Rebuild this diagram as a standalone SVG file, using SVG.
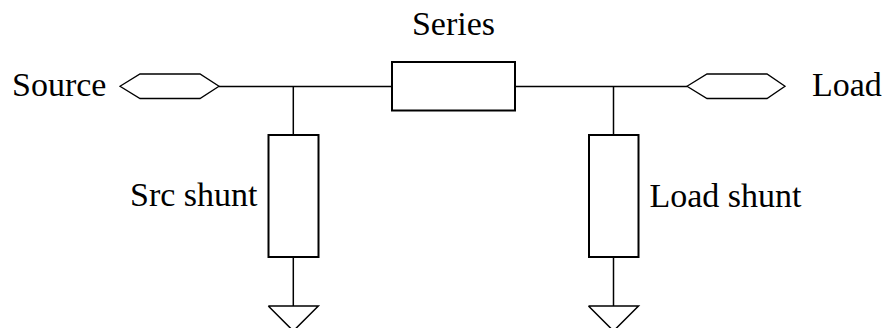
<svg xmlns="http://www.w3.org/2000/svg" width="885" height="328" viewBox="0 0 885 328">
<style>
.w{stroke:#000;stroke-width:1.5;fill:none}
.b{stroke:#000;stroke-width:2;fill:#fff}
.p{stroke:#000;stroke-width:1.3;fill:#fff}
.t{font-family:"Liberation Serif","Times New Roman",serif;font-size:34px;fill:#000}
</style>
<rect width="885" height="328" fill="#fff"/>
<g id="connectors">
<line class="w" x1="219" y1="86.5" x2="392" y2="86.5"/>
<line class="w" x1="515" y1="86.5" x2="687" y2="86.5"/>
<line class="w" x1="293.3" y1="86.5" x2="293.3" y2="135"/>
<line class="w" x1="293.3" y1="257" x2="293.3" y2="306"/>
<line class="w" x1="613.5" y1="86.5" x2="613.5" y2="135"/>
<line class="w" x1="613.5" y1="257" x2="613.5" y2="306"/>
</g>
<g id="source">
<polygon class="p" points="120,86.3 140,74 200,74 219,86.3 200,98.5 140,98.5"/>
<text class="t" x="12" y="95.7">Source</text>
</g>
<g id="load">
<polygon class="p" points="687,86.3 707,74 767,74 785,86.3 767,98.5 707,98.5"/>
<text class="t" x="812" y="95.7">Load</text>
</g>
<g id="series">
<rect class="b" x="392" y="62" width="123" height="48.5"/>
<text class="t" x="453.5" y="35" text-anchor="middle">Series</text>
</g>
<g id="src-shunt">
<rect class="b" x="268.5" y="135" width="50" height="122"/>
<text class="t" x="257.5" y="205.5" text-anchor="end">Src shunt</text>
</g>
<g id="load-shunt">
<rect class="b" x="589" y="135" width="49.5" height="122"/>
<text class="t" x="649.5" y="206.5">Load shunt</text>
</g>
<g id="gnd-src">
<polyline class="w" points="268.3,306 318.3,306 293.3,331 268.3,306"/>
</g>
<g id="gnd-load">
<polyline class="w" points="588.5,306 638.5,306 613.5,331 588.5,306"/>
</g>
</svg>
